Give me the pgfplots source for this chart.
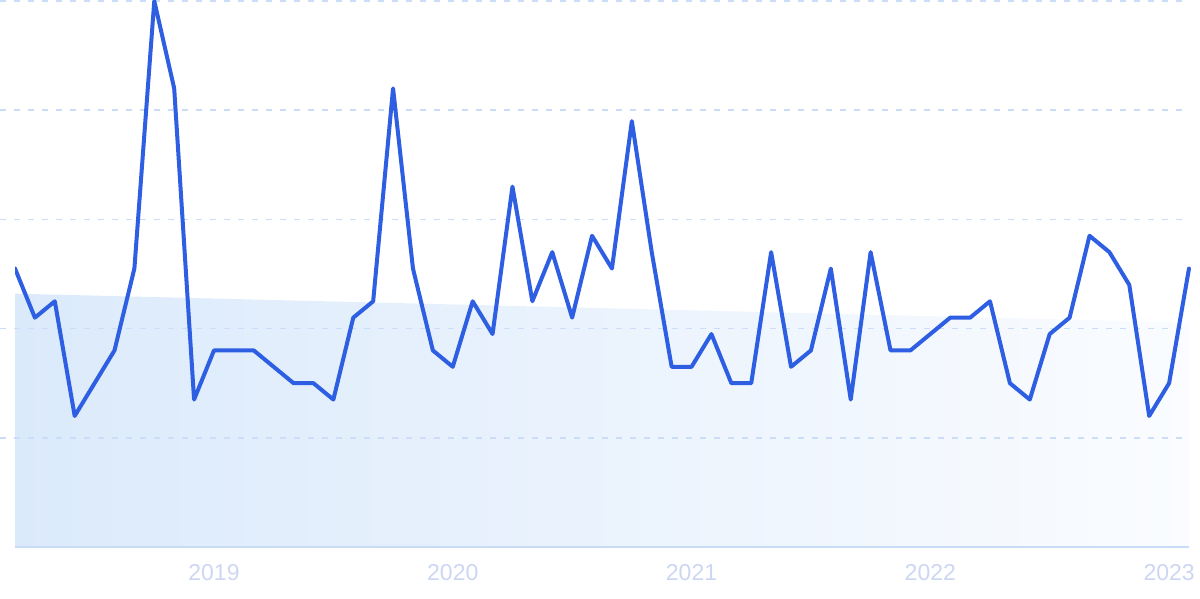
\documentclass[border=0pt]{standalone}
\usepackage{pgfplots}
\pgfplotsset{compat=1.18}
\usepackage{fontspec}
\setmainfont{Liberation Sans}
\setsansfont{Liberation Sans}
\definecolor{lineblue}{RGB}{46,94,226}
\definecolor{gridc}{RGB}{203,221,248}
\definecolor{basec}{RGB}{200,221,245}
\definecolor{tickc}{RGB}{205,214,242}
\definecolor{fillL}{RGB}{219,234,251}
\definecolor{fillR}{RGB}{250,252,255}
\begin{document}
\begin{tikzpicture}
\begin{axis}[
  set layers,
  scale only axis,
  width=587pt, height=273pt,
  xmin=0, xmax=59, ymin=0, ymax=100,
  axis x line*=bottom, axis y line*=left,
  x axis line style={-, draw=basec, line width=0.8pt},
  y axis line style={draw=none},
  xtick={10,22,34,46,58},
  xticklabels={2019,2020,2021,2022,2023},
  ytick=\empty,
  major tick length=0pt,
  xticklabel style={font=\fontsize{11.5}{13}\selectfont\sffamily, text=tickc, yshift=-5pt},
  clip=false,
]
\addplot[draw=none, left color=fillL, right color=fillR, on layer=axis background]
  coordinates {(0,46.4) (59,41.1)} \closedcycle;
\pgfplotsinvokeforeach{20,40,60,80,100}{
  \draw[on layer=axis grid, gridc, line width=0.75pt, dash pattern=on 3pt off 4pt]
    ([xshift=-7.5pt]axis cs:0,#1) -- ([xshift=-2pt]axis cs:59,#1);
}
\begin{scope}
\clip (axis cs:0,0) rectangle ([xshift=5pt]axis cs:59,100);
\addplot[lineblue, line width=2pt, line join=round, line cap=round] coordinates {
(0,51) (1,42) (2,45) (3,24) (4,30) (5,36) (6,51) (7,100) (8,84) (9,27)
(10,36) (11,36) (12,36) (13,33) (14,30) (15,30) (16,27) (17,42) (18,45) (19,84)
(20,51) (21,36) (22,33) (23,45) (24,39) (25,66) (26,45) (27,54) (28,42) (29,57)
(30,51) (31,78) (32,54) (33,33) (34,33) (35,39) (36,30) (37,30) (38,54) (39,33)
(40,36) (41,51) (42,27) (43,54) (44,36) (45,36) (46,39) (47,42) (48,42) (49,45)
(50,30) (51,27) (52,39) (53,42) (54,57) (55,54) (56,48) (57,24) (58,30) (59,51)
};
\end{scope}
\end{axis}
\pgfresetboundingbox
\useasboundingbox (-7.5pt,-26pt) rectangle (592.5pt,273.5pt);
\end{tikzpicture}
\end{document}
